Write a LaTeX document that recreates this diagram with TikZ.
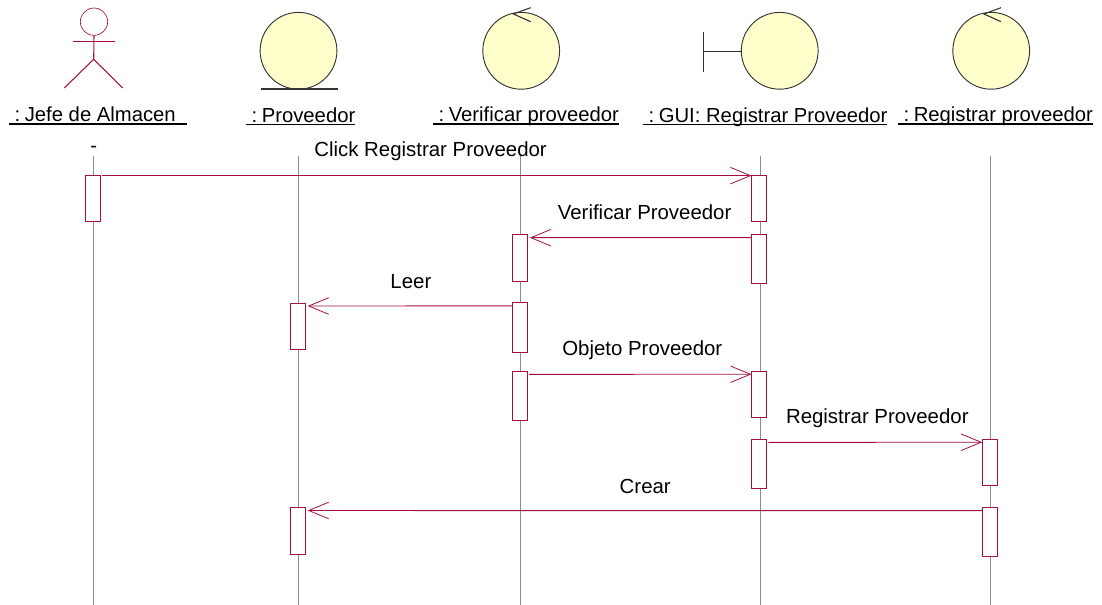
\documentclass[tikz,border=0pt]{standalone}
\usepackage{fontspec}
\setmainfont{Liberation Sans}
\usepackage{xcolor}
\usetikzlibrary{arrows.meta,positioning,calc}
\definecolor{umlred}{HTML}{A50F43}
\definecolor{umlfill}{HTML}{FFFFCB}
\definecolor{umlline}{HTML}{333333}
\definecolor{lifegray}{HTML}{8C8C8C}
\newcommand{\objname}[1]{\vtop{\hbox{\smash{\hspace{4pt}:\ \hspace{-0.8pt}#1}}\kern1pt\hrule height 0.9pt}}

\begin{document}
\begin{tikzpicture}[
  x=0.75pt, y=-0.75pt,
  life/.style={draw=lifegray, line width=0.7pt},
  objcircle/.style={circle, draw=umlline, fill=umlfill, line width=0.7pt, minimum size=57.6pt, inner sep=0pt},
  actline/.style={draw=umlred, line width=0.8pt},
  glyph/.style={draw=umlline, line width=0.8pt},
  objlabel/.style={anchor=base west, inner sep=0pt, font=\fontsize{15.2}{18}\selectfont},
  actbox/.style={rectangle, draw=umlred, fill=white, line width=0.75pt, minimum width=11pt, inner sep=0pt},
  msg/.style={-{Straight Barb[length=15pt,width=12.4pt,line width=0.6pt]}, draw=umlred, line width=0.7pt},
  msgder/.style={msg, shorten <=1pt},
  msgizq/.style={msg, shorten >=1.5pt},
  msglabel/.style={inner sep=0pt, font=\fontsize{15.3}{18}\selectfont}
]
\useasboundingbox (0,0) rectangle (1102,605);

% objetos
\node[objcircle] (cProv) at (298.5,50.8) {};
\node[objcircle] (cVerif) at (521.2,50.8) {};
\node[objcircle] (cGui) at (779.7,50.8) {};
\node[objcircle] (cReg) at (991.2,50.8) {};

% actor
\node[circle, draw=umlred, line width=0.5pt, minimum size=20.5pt, inner sep=0pt] (head) at (94,21.7) {};
\coordinate (hip) at (93.7,59.3);
\coordinate (armL) at (72.7,41.7);
\coordinate (armR) at (114.7,41.7);
\coordinate (footL) at (64.3,88);
\coordinate (footR) at (122.7,88);
\draw[actline] (head.south) -- (hip);
\draw[actline] (armL) -- (armR);
\draw[actline] (footL) -- (hip) -- (footR);

% entidad, control, interfaz
\coordinate (baseL) at (261.3,89);
\coordinate (baseR) at (337.7,89);
\draw[glyph] (baseL) -- (baseR);
\coordinate (tipVerif) at (513.3,14);
\draw[glyph] (530.7,7.7) -- (tipVerif) -- (530.7,21.7);
\coordinate (tipReg) at (984,14);
\draw[glyph] (1001,7.7) -- (tipReg) -- (1001,21.7);
\coordinate (guiBar) at (703.3,51.7);
\draw[glyph] (703.3,32.3) -- (703.3,72.3);
\draw[glyph] (guiBar) -- (cGui.west |- guiBar);

\node[objlabel] (lJefe) at (9,122) {\objname{Jefe de Almacen\hspace{8.5pt}}};
\node[objlabel] (lProv) at (246,122.5) {\objname{Proveedor}};
\node[objlabel] (lVerif) at (433,122) {\objname{Verificar proveedor}};
\node[objlabel] (lGui) at (643,122.5) {\objname{GUI: Registrar Proveedor}};
\node[objlabel] (lReg) at (898,122) {\objname{Registrar proveedor}};
\node[objlabel, anchor=base] (guion) at (93.7,153) {-};

% lineas de vida
\coordinate (t1) at (93.3,156); \coordinate (b1) at (93.3,605);
\coordinate (t2) at (298.3,156); \coordinate (b2) at (298.3,605);
\coordinate (t3) at (520.7,156); \coordinate (b3) at (520.7,605);
\coordinate (t4) at (760.3,156); \coordinate (b4) at (760.3,605);
\coordinate (t5) at (990.7,156); \coordinate (b5) at (990.7,605);
\draw[life] (t1) -- (b1);
\draw[life] (t2) -- (b2);
\draw[life] (t3) -- (b3);
\draw[life] (t4) -- (b4);
\draw[life] (t5) -- (b5);

% activaciones
\node[actbox, minimum height=34.7pt] (a1) at (92.8,198.2) {};
\node[actbox, minimum height=34.7pt] (g1) at (759.3,198.2) {};
\node[actbox, minimum height=34.9pt] (v1) at (520,258) {};
\node[actbox, minimum height=37pt] (g2) at (759.3,259.3) {};
\node[actbox, minimum height=34.7pt] (p1) at (297.8,326.2) {};
\node[actbox, minimum height=37pt] (v2) at (520,327.6) {};
\node[actbox, minimum height=36.7pt] (v3) at (520,395.8) {};
\node[actbox, minimum height=34.8pt] (g3) at (759.3,394.5) {};
\node[actbox, minimum height=36.7pt] (g4) at (759.3,463.8) {};
\node[actbox, minimum height=34.8pt] (r1) at (990,462.5) {};
\node[actbox, minimum height=34.9pt] (p2) at (297.8,530.8) {};
\node[actbox, minimum height=36.7pt] (r2) at (990,532.2) {};

% mensajes
\draw[msgder] ([yshift=-0.8pt]a1.north east) -- node[msglabel, pos=0.507, yshift=18pt] (m1) {Click Registrar Proveedor} ([yshift=-0.8pt]g1.north west);
\draw[msgizq] ([yshift=-2.6pt]g2.north west) -- node[msglabel, xshift=3.75pt, yshift=19pt] (m2) {Verificar Proveedor} ([yshift=-2.6pt]v1.north east);
\draw[msgizq] ([yshift=-2.6pt]v2.north west) -- node[msglabel, xshift=1.5pt, yshift=18pt] (m3) {Leer} ([yshift=-2.6pt]p1.north east);
\draw[msgder] ([yshift=-2.6pt]v3.north east) -- node[msglabel, xshift=2pt, yshift=17.7pt] (m4) {Objeto Proveedor} ([yshift=-2.6pt]g3.north west);
\draw[msgder] ([yshift=-2.6pt]g4.north east) -- node[msglabel, xshift=2pt, yshift=17.7pt] (m5) {Registrar Proveedor} ([yshift=-2.6pt]r1.north west);
\draw[msgizq] ([yshift=-2.6pt]r2.north west) -- node[msglabel, xshift=1pt, yshift=18pt] (m6) {Crear} ([yshift=-2.6pt]p2.north east);
\end{tikzpicture}
\end{document}
